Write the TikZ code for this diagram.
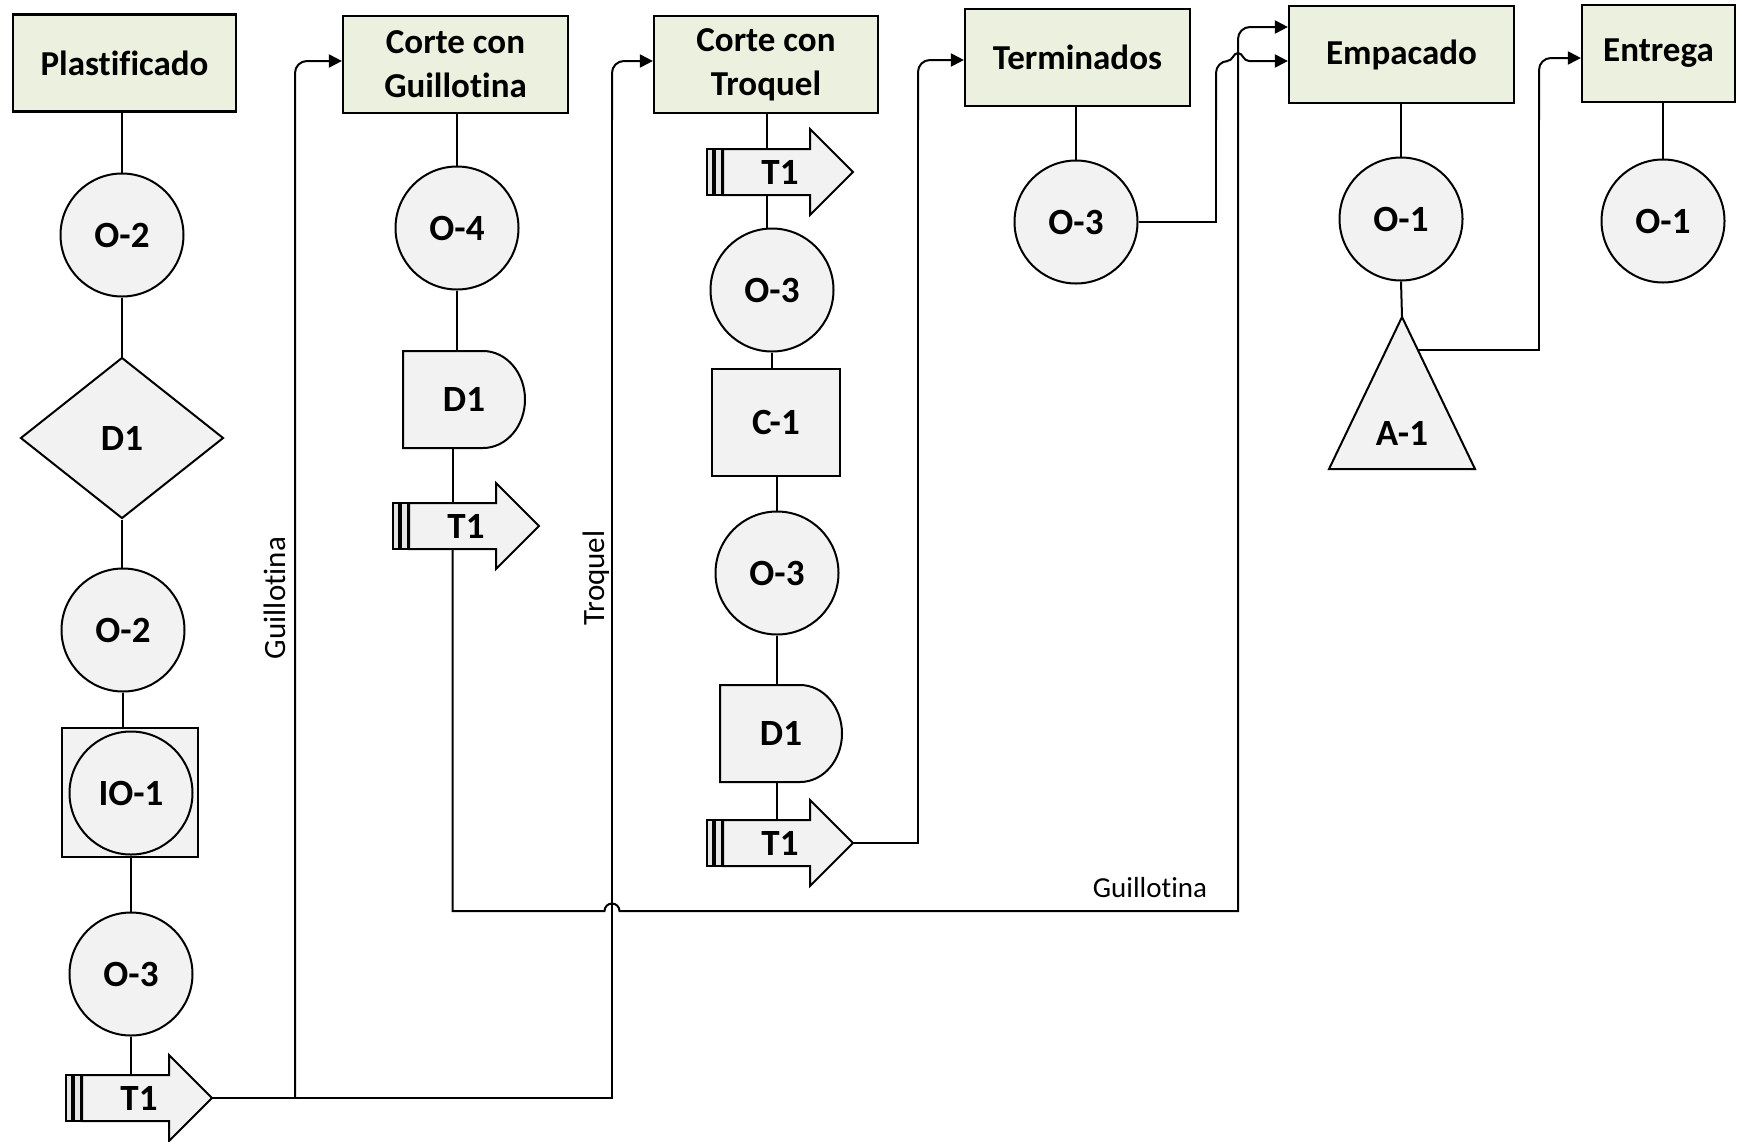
\documentclass[tikz,border=0pt]{standalone}
\usepackage{fontspec}
\setmainfont{Carlito}[Ligatures=CommonOff]
\usetikzlibrary{arrows.meta,shapes.geometric}

\definecolor{boxgreen}{HTML}{EBF1DE}
\definecolor{shapegray}{HTML}{F2F2F2}
\definecolor{bargray}{HTML}{E4E4E4}

\tikzset{
  x=1pt, y=1pt,
  title/.style={draw, line width=2.2pt, fill=boxgreen, minimum height=97pt,
    inner sep=0pt, align=center, font=\fontsize{35}{44}\selectfont\bfseries},
  circ/.style={circle, draw, line width=2pt, fill=shapegray, minimum size=123pt,
    inner sep=0pt, font=\fontsize{37}{42}\selectfont\bfseries},
  plain/.style={inner sep=0pt, font=\fontsize{37}{42}\selectfont\bfseries},
  shapeline/.style={draw, line width=2pt, fill=shapegray},
  boxshape/.style={draw, line width=2pt, fill=shapegray, inner sep=0pt,
    font=\fontsize{37}{42}\selectfont\bfseries},
  link/.style={line width=2pt},
  tip/.style={-{Triangle[length=13pt,width=13pt]}},
  feed/.style={link, rounded corners=12pt, tip},
  flowlabel/.style={inner sep=0pt, font=\fontsize{31}{36}\selectfont},
}

% transport symbol: #1 name, #2 left end of the shaft, #3 height of its axis
\newcommand\transport[3]{%
  \draw[shapeline] (#2,#3+23) -- ++(87,0) -- ++(0,20) -- (#2+130,#3)
    -- (#2+87,#3-43) -- ++(0,20) -- (#2,#3-23) -- cycle;
  \draw[line width=1.3pt, fill=bargray] (#2-16,#3+23) rectangle (#2-10,#3-23);
  \draw[line width=1.3pt, fill=bargray] (#2-8,#3+23) rectangle (#2-1.5,#3-23);
  \node[inner sep=0pt, minimum width=87pt, minimum height=46pt] (#1) at (#2+43.5,#3) {};
  \node[plain] (#1-text) at (#2+57,#3) {T1};
  \coordinate (#1-tip) at (#2+130,#3);
}

% delay symbol: #1 name, #2/#3 centre
\newcommand\delay[3]{%
  \draw[shapeline] (#2-61,#3+48.5) -- (#2+19,#3+48.5)
    arc[start angle=90, end angle=-90, x radius=42, y radius=48.5]
    -- (#2-61,#3-48.5) -- cycle;
  \node[plain, minimum width=122pt, minimum height=97pt] (#1) at (#2,#3) {D1};
}

\begin{document}
\begin{tikzpicture}
\useasboundingbox (0,0) rectangle (1737,-1141);

% process headers
\node[title, minimum width=223pt] (plast) at (124.5,-63) {Plastificado};
\node[title, minimum width=225pt] (guill) at (455.5,-64.5) {Corte con\\Guillotina};
\node[title, minimum width=224pt] (troq) at (766,-64.5) {Corte con\\Troquel};
\node[title, minimum width=225pt] (term) at (1077.5,-57.5) {Terminados};
\node[title, minimum width=225pt] (emp) at (1401.5,-54.5) {Empacado};
\node[title, minimum width=153pt] (entr) at (1658.5,-53.5) {Entrega};

% Plastificado column
\node[circ] (p-o2a) at (122,-235) {O-2};
\node[diamond, boxshape, minimum width=203pt, minimum height=161pt] (p-d1) at (122,-438) {D1};
\node[circ] (p-o2b) at (123,-630) {O-2};
\node[boxshape, minimum width=136pt, minimum height=129pt] (p-sq) at (130,-792.5) {};
\node[circ] (p-io1) at (131,-793) {IO-1};
\node[circ] (p-o3) at (131,-974) {O-3};
\transport{p-t1}{82}{-1098}

\draw[link] (plast.south -| p-o2a.north) -- (p-o2a.north);
\draw[link] (p-o2a.south) -- (p-d1.north);
\draw[link] (p-d1.south) -- (p-d1.south |- p-o2b.north);
\draw[link] (p-o2b.south) -- (p-o2b.south |- p-sq.north);
\draw[link] (p-o3.north |- p-sq.south) -- (p-o3.north);
\draw[link] (p-o3.south) -- (p-o3.south |- p-t1.north);

% split towards the two cutting processes
\draw[link] (p-t1-tip) -- (612,-1098) -- (612,-120);
\draw[feed] (612,-120) -- (612,-61) -- (troq.west |- 0,-61);
\draw[feed] (295,-1098) -- (295,-61) -- (guill.west |- 0,-61);
\node[flowlabel, rotate=90] (lab-g) at (275,-598) {Guillotina};
\node[flowlabel, rotate=90] (lab-t) at (596,-578) {Troquel};

% Corte con Guillotina column
\node[circ] (g-o4) at (457,-228) {O-4};
\delay{g-d1}{464}{-399.5}
\transport{g-t1}{409}{-526}

\draw[link] (g-o4.north |- guill.south) -- (g-o4.north);
\draw[link] (g-o4.south) -- (g-o4.south |- g-d1.north);
\draw[link] (g-d1.south -| g-t1.north) -- (g-t1.north);
\draw[link] (g-t1.south) -- (452.5,-911) -- (604.5,-911)
  arc[start angle=180, end angle=0, radius=7.5] -- (1238,-911) -- (1238,-120);
\draw[feed] (1238,-120) -- (1238,-27) -- (emp.west |- 0,-27);
\node[flowlabel, font=\fontsize{29}{34}\selectfont] (lab-g2) at (1150,-888) {Guillotina};

% Corte con Troquel column
\transport{t-t1a}{723}{-172}
\node[circ] (t-o3a) at (772,-290) {O-3};
\node[boxshape, minimum width=128pt, minimum height=107pt] (t-c1) at (776,-422.5) {C-1};
\node[circ] (t-o3b) at (777,-573) {O-3};
\delay{t-d1}{781}{-733.5}
\transport{t-t1b}{723}{-843}

\draw[link] (troq.south -| t-t1a.north) -- (t-t1a.north);
\draw[link] (t-t1a.south) -- (t-t1a.south |- t-o3a.north);
\draw[link] (t-o3a.south) -- (t-o3a.south |- t-c1.north);
\draw[link] (t-c1.south -| t-o3b.north) -- (t-o3b.north);
\draw[link] (t-o3b.south) -- (t-o3b.south |- t-d1.north);
\draw[link] (t-d1.south -| t-o3b.south) -- (t-o3b.south |- t-t1b.north);
\draw[link] (t-t1b-tip) -- (918,-843) -- (918,-120);
\draw[feed] (918,-120) -- (918,-60) -- (term.west |- 0,-60);

% Terminados column: the feed hops over the Guillotina line
\node[circ] (m-o3) at (1076,-222) {O-3};
\draw[link] (term.south -| m-o3.north) -- (m-o3.north);
\draw[link] (m-o3.east) -- (1216,-222) -- (1216,-120);
\draw[link, rounded corners=12pt] (1216,-120) -- (1216,-61) -- (1228,-61);
\draw[link, tip] (1227,-61) .. controls (1233,-61) and (1233,-53) .. (1238,-53)
  .. controls (1243,-53) and (1243,-61) .. (1249,-61) -- (emp.west |- 0,-61);

% Empacado column
\node[circ] (e-o1) at (1401,-219) {O-1};
\draw[shapeline] (1402,-317) -- (1475,-469) -- (1329,-469) -- cycle;
\node[plain] (e-a1) at (1402,-433) {A-1};
\coordinate (e-a1top) at (1402,-317);
\coordinate (e-a1side) at (1418,-350);
\draw[link] (emp.south -| e-o1.north) -- (e-o1.north);
\draw[link] (e-o1.south) -- (e-a1top);
\draw[link] (e-a1side) -- (1539,-350) -- (1539,-120);
\draw[feed] (1539,-120) -- (1539,-58) -- (entr.west |- 0,-58);

% Entrega column
\node[circ] (n-o1) at (1663,-221) {O-1};
\draw[link] (entr.south -| n-o1.north) -- (n-o1.north);
\end{tikzpicture}
\end{document}
